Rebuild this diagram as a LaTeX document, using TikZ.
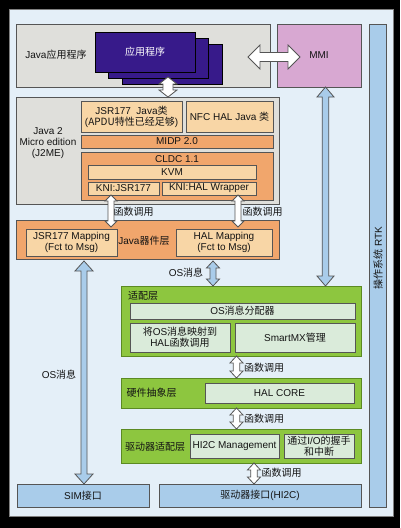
\documentclass[tikz,border=0pt]{standalone}
\usepackage{fontspec}
\setmainfont{Liberation Sans}
\newfontfamily\zh{Noto Sans CJK SC}
\usetikzlibrary{calc}

\definecolor{panelc}{HTML}{E4EFF8}
\definecolor{grayc}{HTML}{DFDFDB}
\definecolor{purplec}{HTML}{371A8A}
\definecolor{pinkc}{HTML}{D8A8D2}
\definecolor{peachc}{HTML}{F8D6A6}
\definecolor{orangec}{HTML}{F1A66C}
\definecolor{greenc}{HTML}{8DC63F}
\definecolor{greenline}{HTML}{5B8A22}
\definecolor{mintc}{HTML}{DAEBDA}
\definecolor{bluec}{HTML}{A9CCEA}
\definecolor{linec}{HTML}{555555}
\definecolor{textc}{HTML}{141414}

\tikzset{
  box/.style={draw=linec, line width=0.8pt, inner sep=0pt, outer sep=0pt, text=textc,
    font=\fontsize{10}{11}\selectfont, align=center},
  lbl/.style={inner sep=0pt, text=textc, font=\fontsize{10}{11}\selectfont, align=center},
  fatarrow/.style={draw=linec, line width=0.8pt, line join=miter}
}

% vertical double arrow: [fill]{top}{bottom}{shaft}{head}{length}
\newcommand\vfat[6][white]{%
  \draw[fatarrow, fill=#1] let \p1=#2, \p2=#3 in
    (\x1,\y1) -- (\x1+#5,\y1-#6) -- (\x1+#4,\y1-#6) -- (\x1+#4,\y2+#6)
    -- (\x1+#5,\y2+#6) -- (\x1,\y2) -- (\x1-#5,\y2+#6) -- (\x1-#4,\y2+#6)
    -- (\x1-#4,\y1-#6) -- (\x1-#5,\y1-#6) -- cycle;}
% horizontal double arrow: [fill]{left}{right}{shaft}{head}{length}
\newcommand\hfat[6][white]{%
  \draw[fatarrow, fill=#1] let \p1=#2, \p2=#3 in
    (\x1,\y1) -- (\x1+#6,\y1+#5) -- (\x1+#6,\y1+#4) -- (\x2-#6,\y1+#4)
    -- (\x2-#6,\y1+#5) -- (\x2,\y1) -- (\x2-#6,\y1-#5) -- (\x2-#6,\y1-#4)
    -- (\x1+#6,\y1-#4) -- (\x1+#6,\y1-#5) -- cycle;}

\begin{document}
\begin{tikzpicture}[x=1pt,y=-1pt]
\fill[black] (0,0) rectangle (400,528);
\draw[fill=panelc, draw=gray] (9,9) rectangle (393,516);

% Java application
\node[box, fill=grayc, minimum width=254pt, minimum height=63pt] (app) at (143,55.5) {};
\node[lbl] (applbl) at (56,55) {Java{\zh 应用程序}};
\node[box, draw=black, fill=purplec, minimum width=100pt, minimum height=40pt] (app3) at (172,64) {};
\node[box, draw=black, fill=purplec, minimum width=100pt, minimum height=40pt] (app2) at (158.5,58) {};
\node[box, draw=black, fill=purplec, minimum width=100pt, minimum height=40pt, text=white] (app1) at (145,52) {\zh 应用程序};

\node[box, fill=pinkc, minimum width=84pt, minimum height=63pt] (mmi) at (319,55.5) {MMI};
\node[box, fill=bluec, minimum width=17pt, minimum height=483pt] (rtk) at (377.5,265.5) {};
\node[lbl, rotate=90] (rtklbl) at (378,258) {{\zh 操作系统} RTK};

% J2ME
\node[box, fill=grayc, minimum width=263pt, minimum height=107pt] (j2me) at (147.5,150.5) {};
\node[lbl] (j2melbl) at (48,143) {Java 2\\Micro edition\\(J2ME)};
\node[box, fill=peachc, minimum width=101pt, minimum height=31pt] (jsrjava) at (131.5,116.5) {JSR177\ \ Java{\zh 类}\\({\zh APDU特性已经足够})};
\node[box, fill=peachc, minimum width=87pt, minimum height=31pt] (nfcjava) at (229.5,116.5) {NFC HAL Java {\zh 类}};
\node[box, fill=orangec, minimum width=192pt, minimum height=13pt] (midp) at (177,141.5) {MIDP 2.0};
\node[box, fill=orangec, minimum width=192pt, minimum height=48pt] (cldc) at (177,176) {};
\node[lbl] (cldclbl) at (177,159) {CLDC 1.1};
\node[box, fill=peachc, minimum width=168pt, minimum height=14pt] (kvm) at (172,172) {KVM};
\node[box, fill=peachc, minimum width=71pt, minimum height=13pt] (knijsr) at (123.5,188.5) {KNI:JSR177};
\node[box, fill=peachc, minimum width=94pt, minimum height=13pt] (knihal) at (209,188.5) {KNI:HAL Wrapper};

% Java device layer
\node[box, fill=orangec, minimum width=263pt, minimum height=39pt] (jdev) at (147.5,239.5) {};
\node[lbl] (jdevlbl) at (144,241) {Java{\zh 器件层}};
\node[box, fill=peachc, minimum width=91pt, minimum height=27pt] (mapjsr) at (71.5,242.5) {JSR177 Mapping\\(Fct to Msg)};
\node[box, fill=peachc, minimum width=96pt, minimum height=27pt] (maphal) at (224,242.5) {HAL Mapping\\(Fct to Msg)};

% adaptation layer
\node[box, draw=greenline, fill=greenc, minimum width=240pt, minimum height=70pt] (adapt) at (241,321) {};
\node[lbl] (adaptlbl) at (143,296) {\zh 适配层};
\node[box, fill=mintc, minimum width=225pt, minimum height=16pt] (osdisp) at (242.5,311) {OS{\zh 消息分配器}};
\node[box, fill=mintc, minimum width=100pt, minimum height=29pt] (osmap) at (180,337.5) {{\zh 将}OS{\zh 消息映射到}\\HAL{\zh 函数调用}};
\node[box, fill=mintc, minimum width=120pt, minimum height=29pt] (smx) at (295,337.5) {SmartMX{\zh 管理}};

% HAL
\node[box, draw=greenline, fill=greenc, minimum width=240pt, minimum height=30pt] (hal) at (241,393) {};
\node[lbl] (hallbl) at (151.5,393) {\zh 硬件抽象层};
\node[box, fill=mintc, minimum width=149pt, minimum height=20pt] (halcore) at (279.5,393) {HAL CORE};

% driver adaptation layer
\node[box, draw=greenline, fill=greenc, minimum width=240pt, minimum height=34pt] (drv) at (241,446) {};
\node[lbl] (drvlbl) at (155,447) {\zh 驱动器适配层};
\node[box, fill=mintc, minimum width=89pt, minimum height=24pt] (hi2c) at (234.5,446) {HI2C Management};
\node[box, fill=mintc, minimum width=70pt, minimum height=24pt] (io) at (319,446) {{\zh 通过}I/O{\zh 的握手}\\{\zh 和中断}};

% interfaces
\node[box, fill=bluec, minimum width=132pt, minimum height=23pt] (sim) at (83,495.5) {SIM{\zh 接口}};
\node[box, fill=bluec, minimum width=202pt, minimum height=23pt] (drvif) at (260,495.5) {{\zh 驱动器接口}(HI2C)};

% arrows
\hfat{([xshift=-22pt,yshift=-1.5pt]app.east)}{([xshift=23pt]mmi.west)}{4.5pt}{12pt}{12pt}
\vfat{([xshift=-4pt,yshift=7pt]app3.south)}{(j2me.north)}{5pt}{9pt}{7pt}
\vfat{([xshift=-12.5pt]knijsr.south)}{([yshift=2pt]mapjsr.north)}{3pt}{6pt}{6pt}
\vfat{([xshift=29pt]knihal.south)}{([yshift=2pt]maphal.north)}{3pt}{6pt}{6pt}
\vfat[bluec]{([xshift=-11pt,yshift=-5pt]maphal.south)}{(adapt.north)}{3pt}{6.5pt}{7pt}
\vfat[bluec]{([xshift=6.5pt]mmi.south)}{(adapt.north)}{3.3pt}{8.5pt}{10pt}
\vfat[bluec]{([xshift=12.5pt,yshift=-5pt]mapjsr.south)}{(sim.north)}{3pt}{9pt}{10pt}
\vfat{([xshift=-4.5pt]adapt.south)}{(hal.north)}{3.3pt}{6.5pt}{7pt}
\vfat{([xshift=-4.5pt]hal.south)}{(drv.north)}{3.3pt}{6.5pt}{7pt}
\vfat{([xshift=13pt]drv.south)}{(drvif.north)}{3.3pt}{6.5pt}{7pt}

% arrow labels
\node[lbl] (call1) at (133.5,212) {\zh 函数调用};
\node[lbl] (call2) at (262.5,212) {\zh 函数调用};
\node[lbl] (osmsg1) at (186,273) {OS{\zh 消息}};
\node[lbl] (osmsg2) at (59,375) {OS{\zh 消息}};
\node[lbl] (call3) at (264,368) {\zh 函数调用};
\node[lbl] (call4) at (264,419) {\zh 函数调用};
\node[lbl] (call5) at (281.5,473) {\zh 函数调用};
\end{tikzpicture}
\end{document}
